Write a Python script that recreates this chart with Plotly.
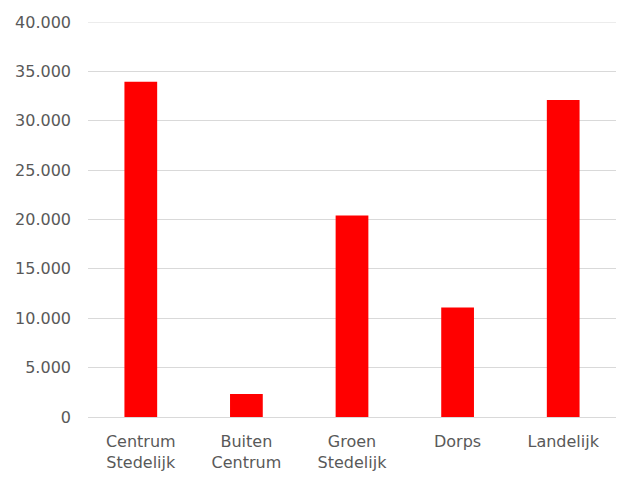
import plotly.graph_objects as go

categories = ["Centrum<br>Stedelijk", "Buiten<br>Centrum", "Groen<br>Stedelijk", "Dorps", "Landelijk"]
values = [33950, 2330, 20400, 11100, 32100]
tick_vals = [0, 5000, 10000, 15000, 20000, 25000, 30000, 35000, 40000]

fig = go.Figure(go.Bar(x=categories, y=values, marker=dict(color="#FF0000", line=dict(width=0))))

font_family = "'DejaVu Sans', sans-serif"
fig.update_layout(
    width=631, height=484,
    margin=dict(l=80, r=23, t=14, b=75),
    paper_bgcolor="white", plot_bgcolor="white",
    separators=",.",
    bargap=0.69,
    showlegend=False,
    font=dict(family=font_family, size=16, color="#595959"),
    shapes=[dict(type="line", xref="paper", yref="y", x0=0, x1=1, y0=40000, y1=40000,
                 line=dict(color="#D9D9D9", width=1), layer="below")],
)
fig.update_yaxes(
    range=[0, 40000], tickvals=tick_vals, tickformat=",d", automargin=False,
    showgrid=True, gridcolor="#D9D9D9", gridwidth=1,
    zeroline=True, zerolinecolor="#D9D9D9", zerolinewidth=1,
    showline=False, ticks="", ticklabelstandoff=16,
)
fig.update_xaxes(showgrid=False, showline=False, ticks="", ticklabelstandoff=13, automargin=False)

fig.write_html("out.html")
